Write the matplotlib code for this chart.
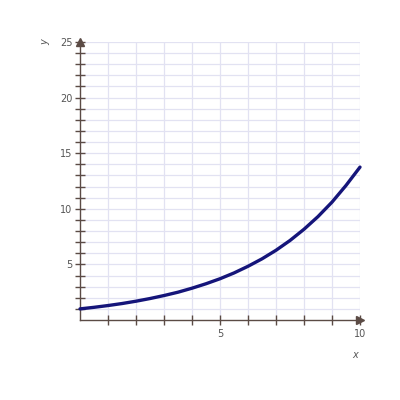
import matplotlib
matplotlib.use("Agg")
import matplotlib.pyplot as plt

# values
x_vals = [0, 0.5, 1, 1.5, 2, 2.5, 3, 3.5, 4, 4.5, 5, 5.5, 6, 6.5, 7, 7.5, 8, 8.5, 9, 9.5, 10]
y_vals = [1.0, 1.14, 1.3, 1.48, 1.69, 1.93, 2.2, 2.5, 2.86, 3.26, 3.71, 4.23, 4.83, 5.5, 6.27, 7.15, 8.16, 9.3, 10.6, 12.1, 13.75]
x_ticklabels = [5, 10]
y_ticklabels = [5, 10, 15, 20, 25]

fig = plt.figure(figsize=(4, 4), dpi=100)
ax = fig.add_axes([0.2, 0.2, 0.7, 0.695])
ax.set_xlim(0, 10)
ax.set_ylim(0, 25)

axis_col = "#5b4b45"
grid_col = "#e2e2f2"
for v in range(1, 11):
    ax.axvline(v, color=grid_col, lw=0.9, zorder=0)
for v in range(1, 26):
    ax.axhline(v, color=grid_col, lw=0.9, zorder=0)

for s in ["top", "right"]:
    ax.spines[s].set_visible(False)
for s in ["left", "bottom"]:
    ax.spines[s].set_color(axis_col)
    ax.spines[s].set_linewidth(1.0)

ax.set_xticks(range(1, 11))
ax.set_yticks(range(1, 26))
ax.set_xticklabels([str(v) if v in x_ticklabels else "" for v in range(1, 11)])
ax.set_yticklabels([str(v) if v in y_ticklabels else "" for v in range(1, 26)])
ax.tick_params(direction="inout", length=7, width=1.0, color=axis_col,
               labelsize=7, labelcolor="#555555", pad=2)
ax.tick_params(axis="x", pad=3)

# arrows
ax.plot(10, 0, marker=">", color=axis_col, ms=6, clip_on=False, transform=ax.transData)
ax.plot(0, 25, marker="^", color=axis_col, ms=6, clip_on=False)

ax.plot(x_vals, y_vals, color="#15157a", lw=2.4, solid_capstyle="round", zorder=5, clip_on=False)

fig.text(355 / 400, 1 - 355 / 400, "x", fontsize=7, style="italic", color="#555555", ha="center", va="center")
fig.text(45 / 400, 1 - 42 / 400, "y", fontsize=7, style="italic", color="#555555", ha="center", va="center", rotation=90)

fig.savefig("out.png", dpi=100)
